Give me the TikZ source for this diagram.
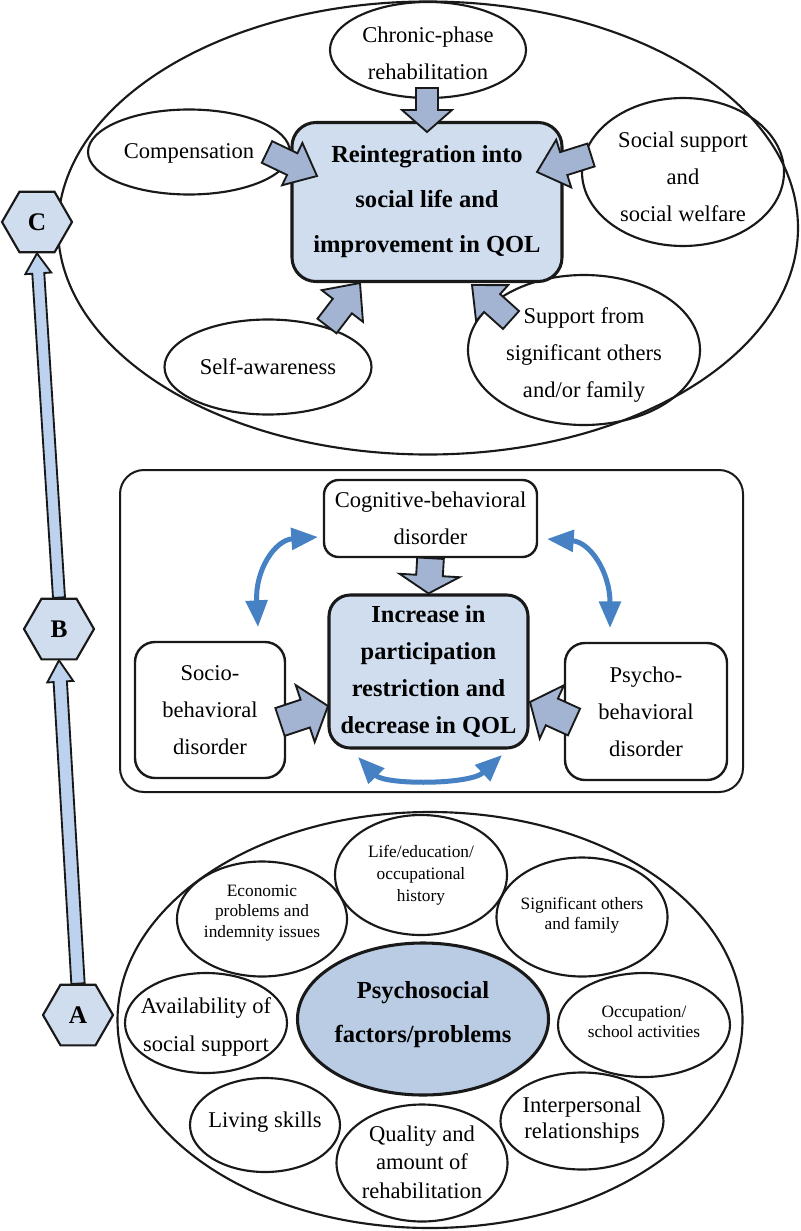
\documentclass[tikz,border=0pt]{standalone}
\usepackage{fontspec}
\setmainfont{Liberation Serif}
\usetikzlibrary{shapes.geometric,calc,arrows.meta}
\definecolor{boxfill}{RGB}{207,221,238}
\definecolor{centfill}{RGB}{185,204,228}
\definecolor{arrfill}{RGB}{163,180,210}
\definecolor{hexarr}{RGB}{188,210,238}
\definecolor{bluec}{RGB}{70,130,195}
\definecolor{linec}{RGB}{25,25,25}
% #1 style, #2 tail, #3 tip, #4 shaft half width, #5 head half width, #6 head length
\newcommand{\blkarrow}[6][]{%
  \path ($(#3)!#6!(#2)$) coordinate (bh);
  \draw[#1] ($(#2)!#4!90:(#3)$) -- ($(bh)!#4!-90:(#2)$) -- ($(bh)!#5!-90:(#2)$) -- (#3)
    -- ($(bh)!#5!90:(#2)$) -- ($(bh)!#4!90:(#2)$) -- ($(#2)!#4!-90:(#3)$) -- cycle;}
\begin{document}
\begin{tikzpicture}[x=0.75pt,y=-0.75pt,
  ell/.style={draw=linec,line width=1.6pt,ellipse,inner sep=0pt},
  rbox/.style={draw=linec,rectangle,inner sep=0pt,align=center},
  txt/.style={align=center,inner sep=0pt},
  reg/.style={font=\fontsize{16.9}{27.75}\selectfont},
  sml/.style={font=\fontsize{13}{15.5}\selectfont},
  hexa/.style={draw=linec,line width=1.6pt,fill=boxfill,regular polygon,regular polygon sides=6,minimum size=52.5pt,inner sep=0pt,font=\bfseries\fontsize{19}{20}\selectfont},
  blk/.style={draw=linec,line width=1.4pt,fill=arrfill,line join=miter},
  hexblk/.style={draw=linec,line width=1.4pt,fill=hexarr,line join=miter},
  curv/.style={draw=bluec,line width=3.75pt,arrows={Triangle[length=20pt,width=16pt]-Triangle[length=20pt,width=16pt]}}
]
\useasboundingbox (0,0) rectangle (800,1231);

% ================= TOP SECTION =================
\node[ell,minimum width=555pt,minimum height=339.75pt] (topbig) at (428,228) {};
\node[ell,minimum width=147pt,minimum height=72pt] (chronic) at (428,50) {};
\node[txt,reg] (chronicT) at (428,53) {Chronic-phase\\rehabilitation};
\node[ell,minimum width=151.5pt,minimum height=63.75pt] (comp) at (189,152) {};
\node[txt,reg] (compT) at (189,153) {Compensation};
\node[ell,minimum width=151.5pt,minimum height=111pt] (social) at (683,172) {};
\node[txt,reg] (socialT) at (683,177) {Social support\\and\\social welfare};
\node[ell,minimum width=155.25pt,minimum height=71.25pt] (self) at (268,367) {};
\node[txt,reg] (selfT) at (268,367) {Self-awareness};
\node[ell,minimum width=174pt,minimum height=112.5pt] (support) at (584,350) {};
\node[txt,reg] (supportT) at (584,355) {Support from\\significant others\\and/or family};

\node[rbox,line width=2.3pt,fill=boxfill,rounded corners=18pt,minimum width=202.5pt,minimum height=119.25pt,
  font=\bfseries\fontsize{18.4}{33.75}\selectfont] (topmain) at (427,202)
  {Reintegration into\\social life and\\improvement in QOL};

\coordinate (a1t) at (427,88);  \coordinate (a1h) at (427,132);
\blkarrow[blk]{a1t}{a1h}{8.25pt}{18.75pt}{16.5pt}
\coordinate (a2t) at (267,152); \coordinate (a2h) at (317,176);
\blkarrow[blk]{a2t}{a2h}{9pt}{17.6pt}{20.6pt}
\coordinate (a3t) at (591,155); \coordinate (a3h) at (537,172);
\blkarrow[blk]{a3t}{a3h}{9pt}{18.75pt}{21pt}
\coordinate (a4t) at (327,326); \coordinate (a4h) at (360,283);
\blkarrow[blk]{a4t}{a4h}{9pt}{19.5pt}{21.75pt}
\coordinate (a5t) at (511,320); \coordinate (a5h) at (472,285);
\blkarrow[blk]{a5t}{a5h}{9pt}{18pt}{20.25pt}

% ================= MIDDLE SECTION =================
\node[rbox,line width=1.5pt,rounded corners=18pt,minimum width=467.25pt,minimum height=241.5pt] (midrect) at (431.5,631) {};
\node[rbox,line width=1.8pt,fill=white,rounded corners=11pt,minimum width=159.75pt,minimum height=57.75pt,reg] (cog) at (430.5,518.5)
  {Cognitive-behavioral\\disorder};
\node[rbox,line width=2.3pt,fill=boxfill,rounded corners=16pt,minimum width=149.25pt,minimum height=114.75pt,
  font=\bfseries\fontsize{18.3}{27.75}\selectfont] (midmain) at (428.5,671.5)
  {Increase in\\participation\\restriction and\\decrease in QOL};
\node[rbox,line width=1.8pt,fill=white,rounded corners=15pt,minimum width=112.5pt,minimum height=102pt,reg] (socio) at (210,710)
  {Socio-\\behavioral\\disorder};
\node[rbox,line width=1.8pt,fill=white,rounded corners=15pt,minimum width=121.5pt,minimum height=102.75pt,reg] (psycho) at (646,711.5)
  {Psycho-\\behavioral\\disorder};

\blkarrow[blk]{cog.south}{midmain.north}{10pt}{22.5pt}{13.5pt}
\coordinate (a6t) at (280,722); \coordinate (a6h) at (328,706);
\blkarrow[blk]{a6t}{a6h}{11pt}{22.5pt}{18pt}
\coordinate (a7t) at (574,722); \coordinate (a7h) at (530,702);
\blkarrow[blk]{a7t}{a7h}{11pt}{22pt}{18pt}

\coordinate (lcA) at (258,627); \coordinate (lcB) at (318,537);
\draw[curv] (lcA) .. controls (255,570) and (275,540) .. (lcB);
\coordinate (rcA) at (547,539); \coordinate (rcB) at (610,628);
\draw[curv] (rcA) .. controls (590,542) and (610,572) .. (rcB);
\coordinate (bcA) at (358,757); \coordinate (bcB) at (502,755);
\draw[curv] (bcA) .. controls (385,785) and (470,785) .. (bcB);

% ================= BOTTOM SECTION =================
\node[ell,minimum width=468.75pt,minimum height=312pt] (botbig) at (430,1020) {};
\node[ell,line width=2.3pt,fill=centfill,minimum width=188.25pt,minimum height=114pt] (central) at (423,1019) {};
\node[txt,font=\bfseries\fontsize{18.4}{33}\selectfont] (centralT) at (423,1015) {Psychosocial\\factors/problems};
\node[ell,minimum width=129pt,minimum height=90pt] (life) at (421,875) {};
\node[txt,font=\fontsize{13}{16.5}\selectfont] (lifeT) at (421,875) {Life/education/\\occupational\\history};
\node[ell,minimum width=127.5pt,minimum height=86.25pt] (econ) at (262,919) {};
\node[txt,font=\fontsize{13}{15.4}\selectfont] (econT) at (262,913) {Economic\\problems and\\indemnity issues};
\node[ell,minimum width=128.25pt,minimum height=89.25pt] (signif) at (582,917) {};
\node[txt,font=\fontsize{13}{15}\selectfont] (signifT) at (582,915) {Significant others\\and family};
\node[ell,minimum width=121.5pt,minimum height=75pt] (avail) at (206,1023) {};
\node[txt,font=\fontsize{16.9}{28.5}\selectfont] (availT) at (206,1027) {Availability of\\social support};
\node[ell,minimum width=129pt,minimum height=78pt] (occup) at (644,1025) {};
\node[txt,font=\fontsize{13}{15}\selectfont] (occupT) at (644,1022) {Occupation/\\school activities};
\node[ell,minimum width=112.5pt,minimum height=70.5pt] (living) at (265,1125) {};
\node[txt,reg] (livingT) at (265,1122) {Living skills};
\node[ell,minimum width=128.25pt,minimum height=87.75pt] (quality) at (422,1163) {};
\node[txt,font=\fontsize{16.9}{21.4}\selectfont] (qualityT) at (422,1162) {Quality and\\amount of\\rehabilitation};
\node[ell,minimum width=122.25pt,minimum height=72.75pt] (interp) at (582,1121) {};
\node[txt,font=\fontsize{16.9}{19.5}\selectfont] (interpT) at (582,1120) {Interpersonal\\relationships};

% ================= HEXAGONS =================
\node[hexa] (C) at (37,222) {C};
\node[hexa] (B) at (59,629) {B};
\node[hexa] (A) at (78,1015) {A};
\blkarrow[hexblk]{A.north}{B.south}{5pt}{9.75pt}{16pt}
\blkarrow[hexblk]{B.north}{C.south}{4.5pt}{9.75pt}{15pt}
\end{tikzpicture}
\end{document}
